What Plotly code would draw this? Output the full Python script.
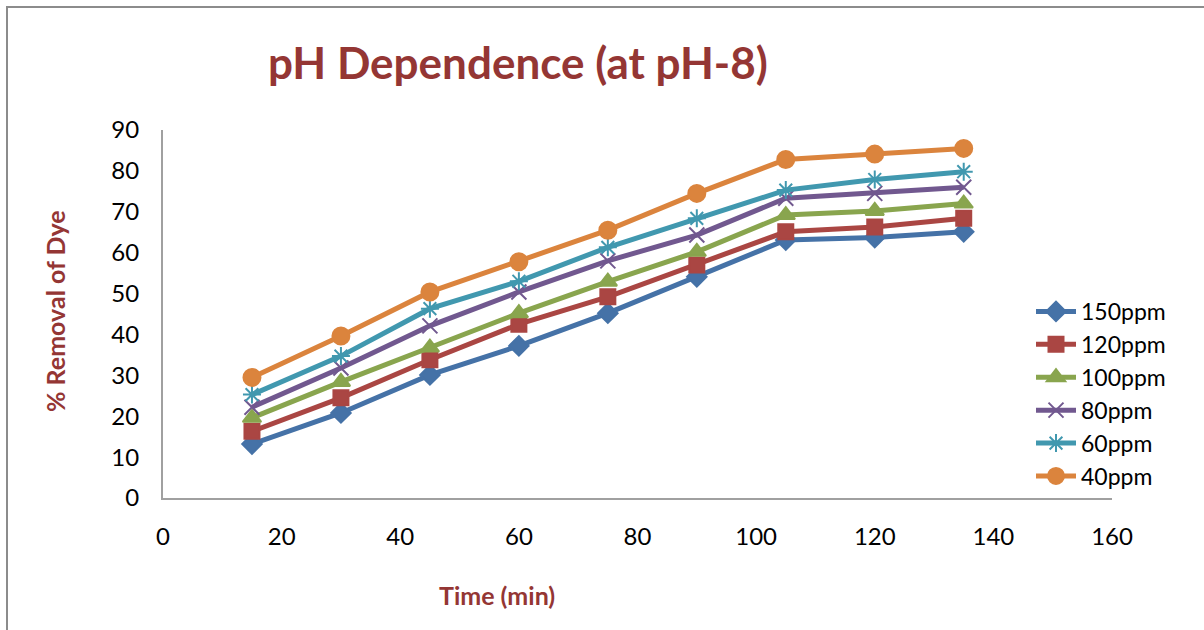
import plotly.graph_objects as go

time_min = [15, 30, 45, 60, 75, 90, 105, 120, 135]
ppm150 = [13.2, 20.8, 30.1, 37.2, 45.2, 54.1, 63.1, 63.7, 65.1]
ppm120 = [16.3, 24.5, 33.8, 42.5, 49.2, 57.0, 65.1, 66.3, 68.4]
ppm100 = [19.6, 28.4, 36.8, 45.2, 52.9, 60.2, 69.2, 70.2, 72.0]
ppm80 = [22.2, 31.8, 42.1, 50.4, 58.0, 64.3, 73.3, 74.5, 76.0]
ppm60 = [25.3, 34.7, 46.3, 53.0, 61.3, 68.4, 75.3, 77.9, 79.8]
ppm40 = [29.5, 39.6, 50.4, 57.8, 65.5, 74.5, 82.8, 84.1, 85.5]

series_names = ["150ppm", "120ppm", "100ppm", "80ppm", "60ppm", "40ppm"]
series_values = [ppm150, ppm120, ppm100, ppm80, ppm60, ppm40]
colors = ["#4572A7", "#AA4643", "#89A54E", "#71588F", "#4198AF", "#DB843D"]
symbols = ["diamond", "square", "triangle-up", "x-thin-open", "asterisk-open", "circle"]
sizes = [15, 15, 16, 15, 15, 17]

fig = go.Figure()
for name, vals, c, s, sz in zip(series_names, series_values, colors, symbols, sizes):
    fig.add_trace(go.Scatter(
        x=time_min, y=vals, name=name, mode="lines+markers",
        line=dict(color=c, width=5),
        marker=dict(symbol=s, size=sz, color=c, line=dict(color=c, width=2)),
    ))

font_family = "Lato, 'Noto Sans', sans-serif"
title_color = "#943634"

fig.update_layout(
    width=1204, height=630,
    margin=dict(l=163, r=92, t=130, b=132),
    paper_bgcolor="white", plot_bgcolor="white",
    font=dict(family=font_family, size=24, color="black"),
    showlegend=True,
    legend=dict(x=(1031 - 163) / 949, y=(498 - 290) / 368, xanchor="left", yanchor="top",
                font=dict(size=23, color="black"), tracegroupgap=0,
                bgcolor="rgba(0,0,0,0)", itemwidth=40),
    annotations=[
        dict(text="<b>pH Dependence (at pH-8)</b>", xref="paper", yref="paper",
             x=(518 - 163) / 949, y=(498 - 62) / 368, xanchor="center", yanchor="middle",
             showarrow=False, font=dict(size=44, color=title_color, family=font_family)),
        dict(text="<b>% Removal of Dye</b>", xref="paper", yref="paper",
             x=(55 - 163) / 949, y=(498 - 311) / 368, xanchor="center", yanchor="middle",
             textangle=-90, showarrow=False,
             font=dict(size=25, color=title_color, family=font_family)),
        dict(text="<b>Time (min)</b>", xref="paper", yref="paper",
             x=(497 - 163) / 949, y=(498 - 595) / 368, xanchor="center", yanchor="middle",
             showarrow=False, font=dict(size=25, color=title_color, family=font_family)),
    ],
    shapes=[
        dict(type="rect", xref="paper", yref="paper",
             x0=(7 - 163) / 949, x1=(1215 - 163) / 949,
             y0=(498 - 640) / 368, y1=(498 - 7) / 368,
             line=dict(color="#8C8C8C", width=2), fillcolor="rgba(0,0,0,0)", layer="below"),
    ],
)

fig.update_xaxes(range=[0, 160], tickvals=list(range(0, 161, 20)),
                 showgrid=False, zeroline=False, showline=True,
                 linecolor="#A0A0A0", linewidth=2, ticks="",
                 ticklabelstandoff=16, tickfont=dict(size=24))
fig.update_yaxes(range=[0, 90], tickvals=list(range(0, 91, 10)),
                 showgrid=False, zeroline=False, showline=True,
                 linecolor="#A0A0A0", linewidth=2, ticks="",
                 ticklabelstandoff=17, tickfont=dict(size=24))

fig.write_html("out.html")
